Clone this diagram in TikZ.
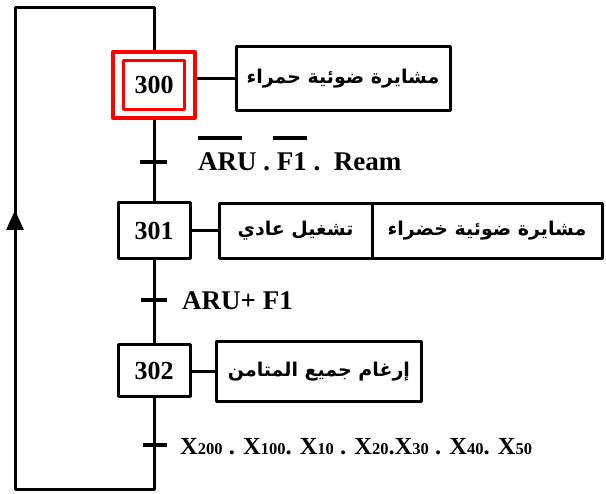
\documentclass[tikz,border=0pt]{standalone}
\usepackage{fontspec}
\setmainfont{Liberation Serif}
\newfontfamily\arabicfont[Script=Arabic]{DejaVu Sans}
\TeXXeTstate=1
\usetikzlibrary{arrows.meta}
\newcommand\sdig[1]{{\fontsize{16.5}{16.5}\selectfont #1}}
\begin{document}
\begin{tikzpicture}[x=1pt,y=-1pt,line join=round,
  wire/.style={line width=3pt},
  stepbox/.style={draw, line width=3pt, minimum width=72pt, minimum height=56pt, inner sep=0pt,
     font=\fontsize{26}{26}\selectfont\bfseries},
  actbox/.style={draw, line width=3pt, inner sep=0pt, font=\arabicfont\bfseries\fontsize{19}{19}\selectfont},
  tick/.style={line width=3.5pt},
  trlabel/.style={anchor=west, inner sep=0pt, font=\fontsize{27}{27}\selectfont\bfseries}]
\useasboundingbox (0,0) rectangle (606,494);
% steps
\node[stepbox, draw=red, text=black, minimum width=61pt, minimum height=49pt] (s300) at (154,85) {300};
\node[draw=red, line width=3.3pt, minimum width=82pt, minimum height=66pt, inner sep=0pt] (s300o) at (154,85) {};
\node[stepbox] (s301) at (154,230.5) {301};
\node[stepbox, minimum height=52pt] (s302) at (154,370.5) {302};
% actions
\node[actbox, minimum width=214pt, minimum height=64pt] (a300) at (343,78.5) {\beginR مشايرة ضوئية حمراء\endR};
\node[actbox, minimum width=153pt, minimum height=55pt] (a301a) at (295.5,231) {\beginR تشغيل عادي\endR};
\node[actbox, minimum width=230pt, minimum height=55pt] (a301b) at (487,231) {\beginR مشايرة ضوئية خضراء\endR};
\node[actbox, minimum width=205pt, minimum height=60pt] (a302) at (319,371.5) {\beginR إرغام جميع المتامن\endR};
\draw[wire] (a300.west -| s300o.east) -- (a300.west);
\draw[wire] (a301a.west -| s301.east) -- (a301a.west);
\draw[wire] (a302.west -| s302.east) -- (a302.west);
% transitions
\coordinate (t1) at (154,162);
\coordinate (t2) at (154,300);
\coordinate (t3) at (154,445);
\draw[tick] ([xshift=-14pt]t1) -- ([xshift=13pt]t1);
\draw[tick] ([xshift=-13pt]t2) -- ([xshift=13pt]t2);
\draw[tick] ([xshift=-11pt]t3) -- ([xshift=13pt]t3);
\node[trlabel] (l1) at (198,162) {ARU . F1 .\ \ Ream};
\draw[line width=3.5pt] (198,138) -- (242,138);
\draw[line width=3.5pt] (273,138) -- (307,138);
\node[trlabel] (l2) at (182,301) {ARU+ F1};
\node[trlabel, font=\fontsize{24.5}{24.5}\selectfont\bfseries] (l3) at (180,447)
  {X\sdig{200} . X\sdig{100}. X\sdig{10} . X\sdig{20}.X\sdig{30} . X\sdig{40}. X\sdig{50}};
% main line
\coordinate (top) at (154,8);
\coordinate (tl) at (15,8);
\coordinate (bl) at (15,490);
\coordinate (bot) at (154,490);
\coordinate (arr) at (15,210);
\draw[wire] (s300o.south) -- (s301.north);
\draw[wire] (s301.south) -- (s302.north);
\draw[wire] (s302.south) -- (bot) -- (bl) -- (tl) -- (top) -- (s300o.north);
\draw[wire, -{Triangle[length=20pt,width=17pt]}] (bl) -- (arr);
\end{tikzpicture}
\end{document}
